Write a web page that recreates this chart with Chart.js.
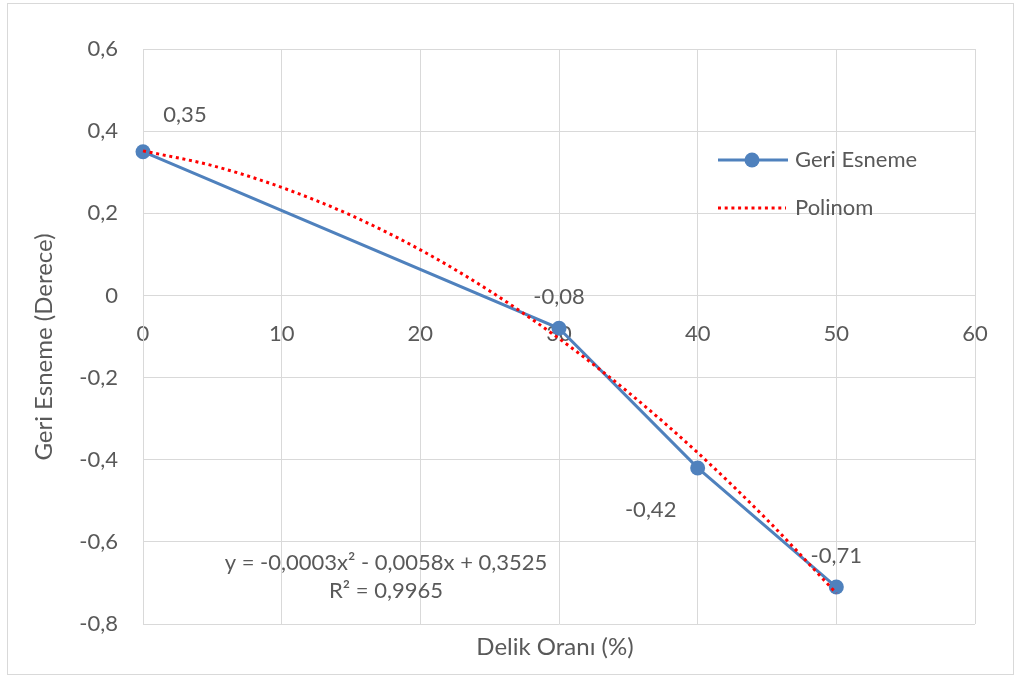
<!DOCTYPE html>
<html>
<head>
<meta charset="utf-8">
<script src="https://cdn.jsdelivr.net/npm/chart.js@4"></script>
<style>
html,body{margin:0;padding:0;background:#fff;}
#wrap{position:relative;width:1021px;height:678px;}
</style>
</head>
<body>
<div id="wrap"><canvas id="c" width="1021" height="678"></canvas></div>
<script>
// Data
const holeRatio = [0, 30, 40, 50];
const springback = [0.35, -0.08, -0.42, -0.71];
const pointLabels = ['0,35', '-0,08', '-0,42', '-0,71'];
const trendX = [0, 5, 10, 15, 20, 25, 30, 35, 40, 45, 50];
const trendY = [0.352, 0.316, 0.263, 0.195, 0.111, 0.011, -0.105, -0.236, -0.383, -0.546, -0.725];
const xTitle = 'Delik Oranı (%)';
const yTitle = 'Geri Esneme (Derece)';
const seriesName = 'Geri Esneme';
const trendName = 'Polinom';
const eqLines = ['y = -0,0003x² - 0,0058x + 0,3525', 'R² = 0,9965'];

const FONT = 'Lato, "Open Sans", sans-serif';
const TXT = '#595959';
const GRID = '#d9d9d9';
const BLUE = '#4f81bd';
const RED = '#ff0000';
const FS = 22;

const fmt = v => Math.abs(v) < 1e-9 ? '0' : (Math.round(v * 10) / 10).toFixed(1).replace('.', ',');

const extras = {
  id: 'extras',
  beforeDraw(chart) {
    const ctx = chart.ctx;
    ctx.save();
    ctx.fillStyle = '#fff';
    ctx.fillRect(0, 0, chart.width, chart.height);
    ctx.strokeStyle = GRID;
    ctx.lineWidth = 1;
    ctx.strokeRect(7.5, 3.5, 1006, 671);
    ctx.restore();
  },
  afterDatasetsDraw(chart) {
    const ctx = chart.ctx;
    ctx.save();
    ctx.fillStyle = TXT;
    ctx.font = FS + 'px ' + FONT;
    ctx.textAlign = 'center';
    ctx.textBaseline = 'middle';
    // data labels
    const offs = [[42, -37], [0, -31], [-47, 42], [0, -31]];
    const meta = chart.getDatasetMeta(0);
    meta.data.forEach((p, i) => {
      ctx.fillText(pointLabels[i], p.x + offs[i][0], p.y + offs[i][1]);
    });
    // equation
    ctx.fillText(eqLines[0], 386, 563);
    ctx.fillText(eqLines[1], 386, 591);
    // axis titles
    ctx.font = '24px ' + FONT;
    ctx.fillText(xTitle, 555, 647);
    ctx.save();
    ctx.translate(44, 347);
    ctx.rotate(-Math.PI / 2);
    ctx.fillText(yTitle, 0, 0);
    ctx.restore();
    // legend
    ctx.font = FS + 'px ' + FONT;
    ctx.textAlign = 'left';
    ctx.strokeStyle = BLUE;
    ctx.lineWidth = 3;
    ctx.beginPath(); ctx.moveTo(718, 160); ctx.lineTo(788, 160); ctx.stroke();
    ctx.fillStyle = BLUE;
    ctx.beginPath(); ctx.arc(752, 160, 7.5, 0, Math.PI * 2); ctx.fill();
    ctx.strokeStyle = RED;
    ctx.setLineDash([3, 3.7]);
    ctx.beginPath(); ctx.moveTo(718, 208); ctx.lineTo(786, 208); ctx.stroke();
    ctx.setLineDash([]);
    ctx.fillStyle = TXT;
    ctx.fillText(seriesName, 795, 160);
    ctx.fillText(trendName, 795, 208);
    ctx.restore();
  }
};

new Chart(document.getElementById('c'), {
  type: 'scatter',
  data: {
    datasets: [
      {
        label: seriesName,
        data: holeRatio.map((x, i) => ({x, y: springback[i]})),
        showLine: true,
        borderColor: BLUE,
        backgroundColor: BLUE,
        borderWidth: 3,
        pointRadius: 7.5,
        pointHoverRadius: 7.5,
        pointBorderWidth: 0,
        clip: false,
        order: 2
      },
      {
        label: trendName,
        data: trendX.map((x, i) => ({x, y: trendY[i]})),
        showLine: true,
        borderColor: RED,
        borderWidth: 3,
        borderDash: [3, 3.7],
        cubicInterpolationMode: 'monotone',
        pointRadius: 0,
        clip: false,
        order: 1
      }
    ]
  },
  options: {
    responsive: false,
    animation: false,
    devicePixelRatio: 1,
    layout: { padding: { left: 60, top: 49, right: 46, bottom: 54 } },
    plugins: { legend: { display: false }, tooltip: { enabled: false } },
    scales: {
      x: {
        type: 'linear',
        position: { y: 0 },
        min: 0, max: 60,
        ticks: { stepSize: 10, color: TXT, font: { family: FONT, size: FS }, padding: 25, maxRotation: 0 },
        grid: { color: GRID, lineWidth: 1, drawTicks: false },
        border: { color: GRID, width: 1 }
      },
      y: {
        type: 'linear',
        position: 'left',
        min: -0.8, max: 0.6,
        afterFit(s) { s.width = 83; },
        ticks: { stepSize: 0.2, color: TXT, font: { family: FONT, size: FS }, padding: 25, callback: v => fmt(v) },
        grid: { color: GRID, lineWidth: 1, drawTicks: false },
        border: { color: GRID, width: 1 }
      }
    }
  },
  plugins: [extras]
});
</script>
</body>
</html>
